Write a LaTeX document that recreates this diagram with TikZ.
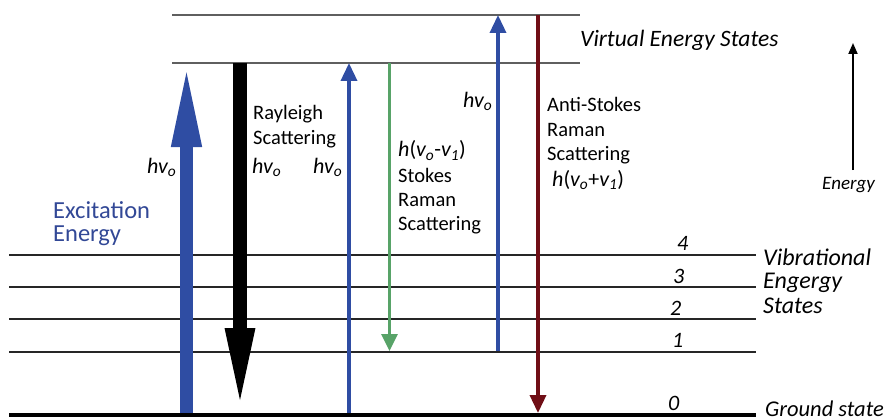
\documentclass[tikz,border=0pt]{standalone}
\usepackage{fontspec}
\setmainfont{Carlito}
\usetikzlibrary{arrows.meta}
\definecolor{pumpblue}{RGB}{47,77,163}
\definecolor{stokesgreen}{RGB}{88,163,104}
\definecolor{antired}{RGB}{112,14,22}
\definecolor{labelblue}{RGB}{50,72,150}
\definecolor{virtgray}{RGB}{95,95,95}
\tikzset{
  virtlevel/.style={draw=virtgray,line width=1.8pt},
  viblevel/.style={draw=black!85,line width=1.4pt},
  groundlevel/.style={draw=black,line width=4.5pt},
  lbl/.style={font=\fontsize{20.5}{24}\selectfont,anchor=base west,inner sep=0pt},
  hlbl/.style={lbl,font=\fontsize{22}{24}\selectfont},
  ilbl/.style={lbl,font=\fontsize{22}{24}\selectfont\itshape},
  thinarrow/.style={line width=3.6pt,-{Triangle[length=18pt,width=16pt]}},
}
\newcommand{\hvo}{\textit{hv\textsubscript{o}}}
\begin{document}
\begin{tikzpicture}[x=1pt,y=-1pt]
\useasboundingbox (0,0) rectangle (887,420);

% energy levels
\coordinate (vt0) at (172,15);  \coordinate (vt1) at (580,15);
\coordinate (vb0) at (172,63);  \coordinate (vb1) at (580,63);
\coordinate (l40) at (9,255);   \coordinate (l41) at (756,255);
\coordinate (l30) at (9,287);   \coordinate (l31) at (756,287);
\coordinate (l20) at (9,319);   \coordinate (l21) at (756,319);
\coordinate (l10) at (9,352);   \coordinate (l11) at (756,352);
\coordinate (g0)  at (9,415);   \coordinate (g1)  at (756,415);
\draw[virtlevel] (vt0) -- (vt1);
\draw[virtlevel] (vb0) -- (vb1);
\draw[viblevel] (l40) -- (l41);
\draw[viblevel] (l30) -- (l31);
\draw[viblevel] (l20) -- (l21);
\draw[viblevel] (l10) -- (l11);
\draw[groundlevel] (g0) -- (g1);

% transitions
\coordinate (exA) at (186.5,413); \coordinate (exB) at (186.5,63);
\coordinate (rayA) at (240,63);   \coordinate (rayB) at (240,413);
\coordinate (puA) at (349,413);   \coordinate (puB) at (349,63);
\coordinate (stA) at (389.5,63);  \coordinate (stB) at (389.5,351);
\coordinate (asA) at (498,351);   \coordinate (asB) at (498,15);
\coordinate (aeA) at (538,15);    \coordinate (aeB) at (538,413);
\coordinate (enA) at (853,170);   \coordinate (enB) at (853,43);

\draw[pumpblue,line width=13pt,-{Triangle[length=84pt,width=27pt]}] (exA) -- (exB);
\draw[black,line width=14pt,-{Triangle[length=85pt,width=26pt]}] (rayA) -- (rayB);
\draw[pumpblue,thinarrow] (puA) -- (puB);
\draw[stokesgreen,line width=3pt,-{Triangle[length=17pt,width=16pt]}] (stA) -- (stB);
\draw[pumpblue,thinarrow] (asA) -- (asB);
\draw[antired,thinarrow] (aeA) -- (aeB);
\draw[black,line width=1.8pt,-{Triangle[length=11pt,width=9pt]}] (enA) -- (enB);

% labels
\node[lbl,font=\fontsize{23.5}{26}\selectfont\itshape] (tvirt) at (580,47) {Virtual Energy States};
\node[lbl,font=\fontsize{19}{21}\selectfont\itshape] (tener) at (822,189) {Energy};
\node[lbl,font=\fontsize{24.5}{26}\selectfont,text=labelblue] (texc1) at (53,218) {Excitation};
\node[lbl,font=\fontsize{24.5}{26}\selectfont,text=labelblue] (texc2) at (53,241) {Energy};
\node[hlbl] (thv1) at (147,173) {\hvo};
\node[lbl] (tray1) at (253,119) {Rayleigh};
\node[lbl] (tray2) at (253,144) {Scattering};
\node[hlbl] (thv2) at (252,173) {\hvo};
\node[hlbl] (thv3) at (313,173) {\hvo};
\node[hlbl] (tst0) at (398,157) {\textit{h}(\textit{v\textsubscript{o}}-\textit{v\textsubscript{1}})};
\node[lbl] (tst1) at (398,182) {Stokes};
\node[lbl] (tst2) at (398,206) {Raman};
\node[lbl] (tst3) at (398,230) {Scattering};
\node[hlbl] (thv4) at (463,107) {\hvo};
\node[lbl] (tas1) at (547,111) {Anti-Stokes};
\node[lbl] (tas2) at (547,136) {Raman};
\node[lbl] (tas3) at (547,160) {Scattering};
\node[hlbl] (tas0) at (552,186) {\textit{h}(\textit{v\textsubscript{o}}+\textit{v\textsubscript{1}})};
\node[ilbl] (n4) at (677,250) {4};
\node[ilbl] (n3) at (673,283) {3};
\node[ilbl] (n2) at (670,315) {2};
\node[ilbl] (n1) at (672,347) {1};
\node[ilbl] (n0) at (668,410) {0};
\node[lbl,font=\fontsize{24}{26}\selectfont\itshape] (tvib1) at (763,265) {Vibrational};
\node[lbl,font=\fontsize{24}{26}\selectfont\itshape] (tvib2) at (763,288) {Engergy};
\node[lbl,font=\fontsize{24}{26}\selectfont\itshape] (tvib3) at (763,313) {States};
\node[lbl,font=\fontsize{22.5}{24}\selectfont\itshape] (tgnd) at (765,416) {Ground state};
\end{tikzpicture}
\end{document}
